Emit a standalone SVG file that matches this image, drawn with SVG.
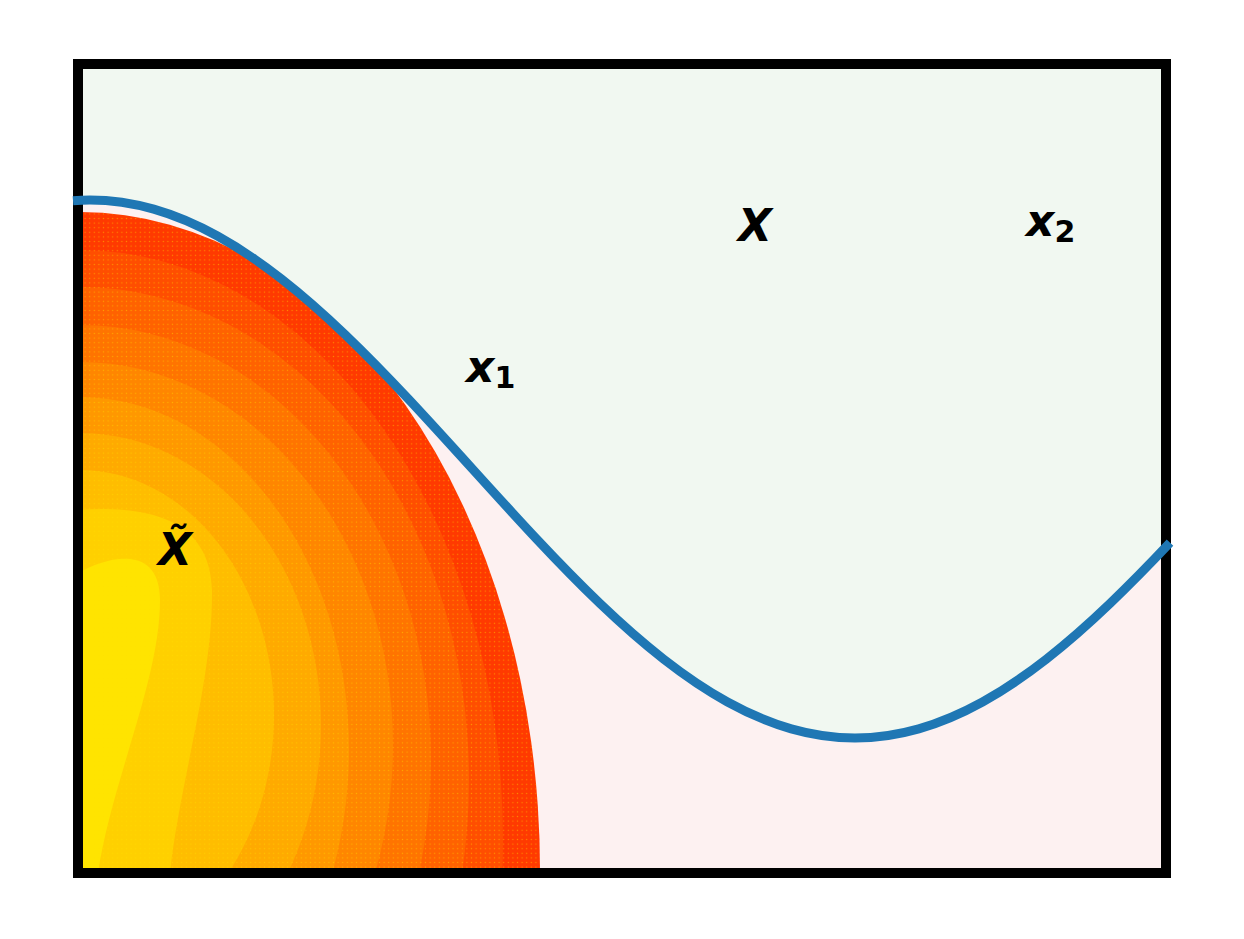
<svg xmlns="http://www.w3.org/2000/svg" width="1244" height="939" viewBox="0 0 1244 939">
  <style>
    .lbl { font-family: "DejaVu Sans", "Liberation Sans", sans-serif; font-weight: bold; font-style: italic; font-size: 44px; fill: #000; }
    .sub { font-size: 30px; font-style: normal; }
    .curve { fill: none; stroke: #1f77b4; stroke-width: 9; stroke-linejoin: round; stroke-linecap: butt; }
  </style>
  <defs>
    <clipPath id="plotArea"><rect x="78" y="64" width="1088" height="809"/></clipPath>
    <clipPath id="heatClip"><path d="M78,212 L80,212 A460,658 0 0 1 540,870 L540,873 L78,873 Z"/></clipPath>
    <pattern id="dots" patternUnits="userSpaceOnUse" width="4.6" height="4.6">
      <circle cx="2.3" cy="2.3" r="0.7" fill="#ffe000" fill-opacity="0.45"/>
    </pattern>
  </defs>
  <rect x="0" y="0" width="1244" height="939" fill="#ffffff"/>
  <g id="background" clip-path="url(#plotArea)">
    <rect x="78" y="64" width="1088" height="809" fill="#f1f8f1"/>
    <path fill="#fdf1f1" d="M73,200.66 C99.92,198.58 126.83,201.48 153.75,209.17 C175,215.25 196.25,224.3 217.5,236.04 C238.75,247.78 260,262.19 281.25,278.79 C302.5,295.39 323.75,314.17 345,334.5 C366.25,354.83 387.5,376.7 408.75,399.38 C430,422.06 451.25,445.52 472.5,469 C493.75,492.48 515,515.94 536.25,538.62 C557.5,561.3 578.75,583.17 600,603.5 C621.25,623.83 642.5,642.61 663.75,659.21 C685,675.81 706.25,690.22 727.5,701.96 C748.75,713.7 770,722.75 791.25,728.83 C812.5,734.91 833.75,738 855,738 C876.25,738 897.5,734.91 918.75,728.83 C940,722.75 961.25,713.7 982.5,701.96 C1003.75,690.22 1025,675.81 1046.25,659.21 C1067.5,642.61 1088.75,623.83 1110,603.5 C1130,584.39 1150,563.92 1170,542.7 L1170,880 L73,880 Z"/>
  </g>
  <g id="heatmap" clip-path="url(#heatClip)">
    <rect x="78" y="200" width="470" height="675" fill="#ff3a00"/>
    <ellipse cx="80" cy="840" rx="423" ry="590" fill="#ff4e00"/>
    <ellipse cx="80" cy="780" rx="389" ry="493" fill="#ff6200"/>
    <ellipse cx="80" cy="760" rx="351" ry="435" fill="#ff7400"/>
    <ellipse cx="80" cy="745" rx="313" ry="383" fill="#ff8600"/>
    <ellipse cx="80" cy="750" rx="269" ry="353" fill="#ff9800"/>
    <ellipse cx="80" cy="725" rx="241" ry="292" fill="#ffaa00"/>
    <ellipse cx="80" cy="715" rx="194" ry="245" fill="#ffbd00"/>
    <path fill="#ffd000" d="M78,510 C150,505 210,520 212,590 C213,680 180,780 170,873 L78,873 Z"/>
    <path fill="#ffe400" d="M78,573 C110,555 160,545 160,600 C160,680 112,780 98,873 L78,873 Z"/>
    <rect x="78" y="200" width="470" height="675" fill="url(#dots)"/>
  </g>
  <rect id="frame" x="78" y="64" width="1088" height="809" fill="none" stroke="#000" stroke-width="10"/>
  <g id="connectors">
    <path class="curve" d="M73,200.66 C99.92,198.58 126.83,201.48 153.75,209.17 C175,215.25 196.25,224.3 217.5,236.04 C238.75,247.78 260,262.19 281.25,278.79 C302.5,295.39 323.75,314.17 345,334.5 C366.25,354.83 387.5,376.7 408.75,399.38 C430,422.06 451.25,445.52 472.5,469 C493.75,492.48 515,515.94 536.25,538.62 C557.5,561.3 578.75,583.17 600,603.5 C621.25,623.83 642.5,642.61 663.75,659.21 C685,675.81 706.25,690.22 727.5,701.96 C748.75,713.7 770,722.75 791.25,728.83 C812.5,734.91 833.75,738 855,738 C876.25,738 897.5,734.91 918.75,728.83 C940,722.75 961.25,713.7 982.5,701.96 C1003.75,690.22 1025,675.81 1046.25,659.21 C1067.5,642.61 1088.75,623.83 1110,603.5 C1130,584.39 1150,563.92 1170,542.7"/>
  </g>
  <g id="label-X"><text class="lbl" x="755" y="241" text-anchor="middle">X</text></g>
  <g id="label-x1"><text class="lbl" x="466" y="382">x<tspan class="sub" dy="6">1</tspan></text></g>
  <g id="label-x2"><text class="lbl" x="1026" y="236">x<tspan class="sub" dy="6">2</tspan></text></g>
  <g id="label-xtilde"><text class="lbl" x="175" y="565" text-anchor="middle">X̃</text></g>
</svg>
